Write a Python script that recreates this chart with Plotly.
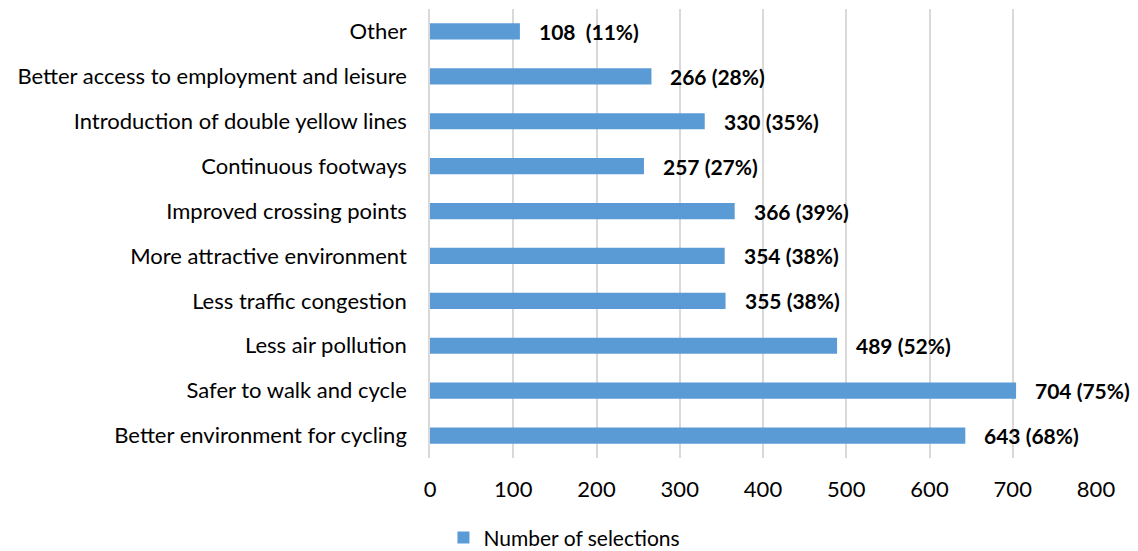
import plotly.graph_objects as go

categories = [
    "Better environment for cycling",
    "Safer to walk and cycle",
    "Less air pollution",
    "Less traffic congestion",
    "More attractive environment",
    "Improved crossing points",
    "Continuous footways",
    "Introduction of double yellow lines",
    "Better access to employment and leisure",
    "Other",
]
values = [643, 704, 489, 355, 354, 366, 257, 330, 266, 108]
labels = ["643 (68%)", "704 (75%)", "489 (52%)", "355 (38%)", "354 (38%)",
          "366 (39%)", "257 (27%)", "330 (35%)", "266 (28%)", "108  (11%)"]
x_ticks = [0, 100, 200, 300, 400, 500, 600, 700, 800]

FONT = "Lato"
fig = go.Figure()
fig.add_trace(go.Bar(
    y=categories, x=values, orientation="h",
    marker=dict(color="#5b9bd5", line=dict(width=0)),
    width=0.36, name="Number of selections", showlegend=True,
))

for c, v, t in zip(categories, values, labels):
    fig.add_annotation(x=v, y=c, text=t, showarrow=False, xanchor="left",
                       xshift=17, font=dict(family=FONT, size=21, color="#000000", weight="bold"))

fig.update_layout(
    width=1138, height=551,
    margin=dict(l=430, r=42, t=9, b=93, autoexpand=False),
    paper_bgcolor="white", plot_bgcolor="white",
    font=dict(family=FONT, size=22, color="#000000"),
    showlegend=True,
    legend=dict(orientation="h", xref="container", yref="container",
                x=0.496, xanchor="center", y=0.024, yanchor="middle",
                font=dict(family=FONT, size=21, color="#000000"),
                itemwidth=30, bgcolor="rgba(0,0,0,0)"),
    bargap=0.64,
)
fig.update_xaxes(range=[0, 800], tickvals=x_ticks, showgrid=True,
                 gridcolor="#d9d9d9", gridwidth=1.5, zeroline=False,
                 showline=False, ticklabelstandoff=16,
                 tickfont=dict(family=FONT, size=22, color="#000000"))
fig.update_yaxes(categoryorder="array", categoryarray=categories,
                 showline=True, linecolor="#d9d9d9", linewidth=1.5,
                 ticklabelstandoff=17,
                 tickfont=dict(family=FONT, size=22, color="#000000"))

fig.write_html("out.html")
